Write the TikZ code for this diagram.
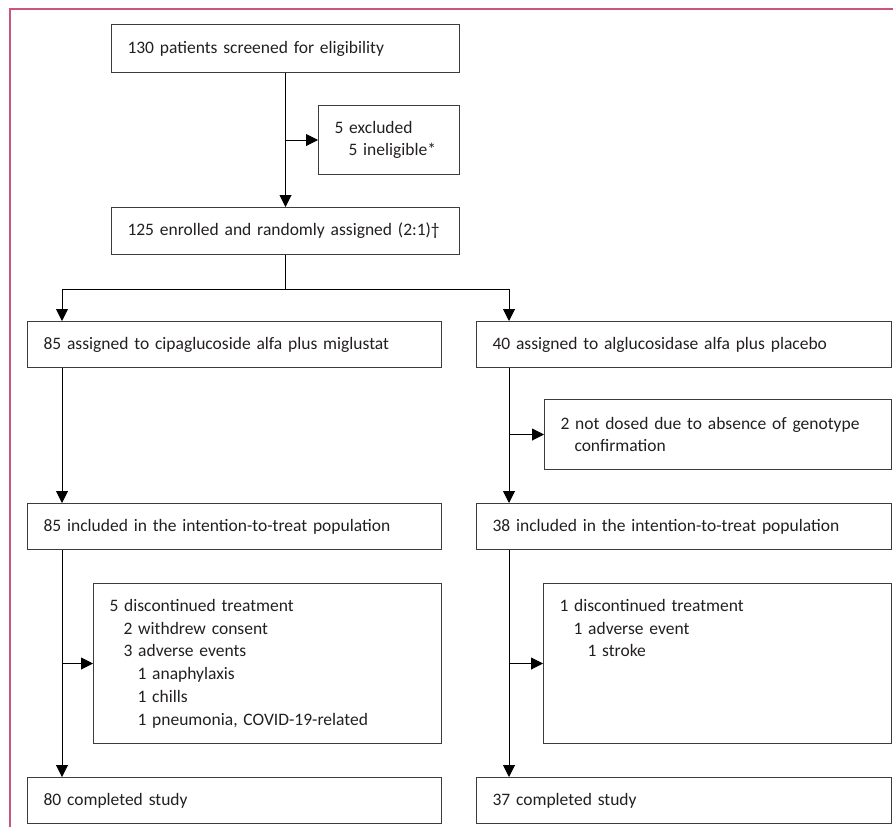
\documentclass[tikz,border=0pt]{standalone}
\usepackage{fontspec}
\setmainfont{Carlito}
\usetikzlibrary{positioning,arrows.meta}
\definecolor{framepink}{RGB}{204,86,122}
\definecolor{boxline}{RGB}{60,60,60}
\definecolor{txt}{RGB}{35,31,32}
\newcommand{\ind}{\hspace*{14pt}}
\newcommand{\boxfont}{\fontsize{17.5}{22.7}\selectfont}

\begin{document}
\begin{tikzpicture}[x=1pt, y=1pt,
    box/.style={draw=boxline, line width=1pt, text=txt, anchor=north west, align=left,
        inner xsep=16pt, font=\boxfont},
    wide/.style={box, text width=382pt, minimum height=46pt},
    disc/.style={box, text width=316pt, inner ysep=12pt, text height=16pt, text depth=120pt},
    flow/.style={draw, line width=1pt, -{Triangle[length=12pt,width=12pt]}}]
                \useasboundingbox (0,0) rectangle (893,-827);
                \draw[framepink, line width=2pt] (10,-827) -- (10,-9) -- (893,-9);

                \node[box, text width=316pt, minimum height=48pt] (screen) at (111,-24) {130 patients screened for eligibility};
                \node[box, below=32pt of screen.south east, anchor=north east, text width=109pt, minimum height=69pt] (excl) {5 excluded\\\ind 5 ineligible*};
                \node[box, below=134pt of screen.south west, anchor=north west, text width=316pt, minimum height=47pt] (enrol) {125 enrolled and randomly assigned (2:1)\textdagger};

                \node[wide] (armA) at (27,-321) {85 assigned to cipaglucoside alfa plus miglustat};
                \node[wide, right=34pt of armA, text width=383pt] (armB) {40 assigned to alglucosidase alfa plus placebo};
                \node[box, below=31pt of armB.south east, anchor=north east, text width=315pt, minimum height=70pt] (nodose) {2 not dosed due to absence of genotype\\\ind confirmation};

                \node[wide, below=135pt of armA] (ittA) {85 included in the intention-to-treat population};
                \node[wide, below=135pt of armB, text width=383pt] (ittB) {38 included in the intention-to-treat population};

                \node[disc, below=33pt of ittA.south east, anchor=north east] (discA) {5 discontinued treatment\\\ind 2 withdrew consent\\\ind 3 adverse events\\\ind\ind 1 anaphylaxis\\\ind\ind 1 chills\\\ind\ind 1 pneumonia, COVID-19-related};
                \node[disc, below=33pt of ittB.south east, anchor=north east] (discB) {1 discontinued treatment\\\ind 1 adverse event\\\ind\ind 1 stroke};

                \node[wide, below=227pt of ittA] (compA) {80 completed study};
                \node[wide, below=227pt of ittB, text width=383pt] (compB) {37 completed study};

                \coordinate (tapA) at ([xshift=35pt]armA.north west);
                \coordinate (tapB) at ([xshift=33pt]armB.north west);

                \draw[flow] (screen) -- (enrol);
                \draw[flow] (screen.south |- excl.west) -- (excl.west);
                \draw[flow] (enrol.south) -- ++(0,-34) -| (tapA);
                \draw[flow] (enrol.south) -- ++(0,-34) -| (tapB);
                \draw[flow] (armA.south -| tapA) -- (ittA.north -| tapA);
                \draw[flow] (ittA.south -| tapA) -- (compA.north -| tapA);
                \draw[flow] (tapA |- discA.west) -- (discA.west);
                \draw[flow] (armB.south -| tapB) -- (ittB.north -| tapB);
                \draw[flow] (tapB |- nodose.west) -- (nodose.west);
                \draw[flow] (ittB.south -| tapB) -- (compB.north -| tapB);
                \draw[flow] (tapB |- discB.west) -- (discB.west);
            \end{tikzpicture}
\end{document}
